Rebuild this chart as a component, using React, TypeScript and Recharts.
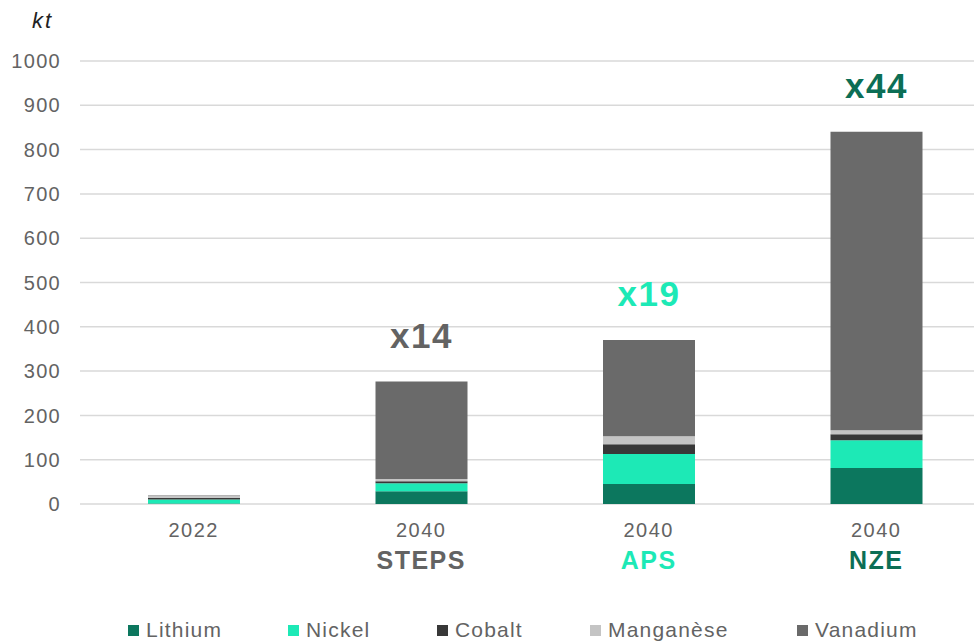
import { BarChart, Bar, XAxis, YAxis, CartesianGrid, LabelList } from "recharts";

const years = ["2022", "2040", "2040", "2040"];
const scenarios = ["", "STEPS", "APS", "NZE"];
const multipliers = ["", "x14", "x19", "x44"];

const lithium = [1, 29, 45, 81];
const nickel = [9, 18, 68, 63];
const cobalt = [4, 4.5, 22, 13.5];
const manganese = [4, 5, 18, 9];
const vanadium = [1, 220, 217, 674];

const yTicks = [0, 100, 200, 300, 400, 500, 600, 700, 800, 900, 1000];

const SCENARIO_COLORS = ["#636363", "#636363", "#1de9b6", "#0c6e55"];

const SERIES = [
  { key: "lithium", name: "Lithium", color: "#0c775e" },
  { key: "nickel", name: "Nickel", color: "#1de9b6" },
  { key: "cobalt", name: "Cobalt", color: "#383838" },
  { key: "manganese", name: "Manganèse", color: "#c4c4c4" },
  { key: "vanadium", name: "Vanadium", color: "#6a6a6a" },
];

const data = years.map((year, i) => ({
  id: i,
  year,
  scenario: scenarios[i],
  lithium: lithium[i],
  nickel: nickel[i],
  cobalt: cobalt[i],
  manganese: manganese[i],
  vanadium: vanadium[i],
}));

const FONT = "'Liberation Sans', Arial, sans-serif";
const TEXT = "#636363";

function CategoryTick(props: any) {
  const { x, payload } = props;
  const i = payload.value;
  return (
    <g>
      <text x={x} y={537} textAnchor="middle" fontSize={20} letterSpacing={1.5} fill={TEXT} fontFamily={FONT}>
        {years[i]}
      </text>
      {scenarios[i] && (
        <text
          x={x}
          y={569}
          textAnchor="middle"
          fontSize={25}
          letterSpacing={1.5}
          fontWeight="bold"
          fill={SCENARIO_COLORS[i]}
          fontFamily={FONT}
        >
          {scenarios[i]}
        </text>
      )}
    </g>
  );
}

function MultiplierLabel(props: any) {
  const { x, y, width, index } = props;
  if (!multipliers[index]) return null;
  return (
    <text
      x={x + width / 2}
      y={y - 34}
      textAnchor="middle"
      fontSize={35}
      letterSpacing={1.5}
      fontWeight="bold"
      fill={SCENARIO_COLORS[index]}
      fontFamily={FONT}
    >
      {multipliers[index]}
    </text>
  );
}

export default function App() {
  return (
    <div style={{ position: "absolute", left: 0, top: 0, width: 974, height: 642, overflow: "hidden", background: "#fff" }}>
      <div
        style={{
          position: "absolute",
          left: 32,
          top: 8,
          fontFamily: FONT,
          fontStyle: "italic",
          fontSize: 22,
          color: "#222",
          letterSpacing: 2,
        }}
      >
        kt
      </div>
      <BarChart
        width={990}
        height={642}
        data={data}
        margin={{ top: 61, right: 0, bottom: 58, left: 0 }}
      >
        <CartesianGrid vertical={false} stroke="#d9d9d9" strokeWidth={1.5} />
        <XAxis
          dataKey="id"
          axisLine={false}
          tickLine={false}
          height={80}
          interval={0}
          tick={<CategoryTick />}
        />
        <YAxis
          width={80}
          domain={[0, 1000]}
          ticks={yTicks}
          axisLine={false}
          tickLine={false}
          tickSize={8}
          tickMargin={11}
          tick={{ fontSize: 20, fill: TEXT, fontFamily: FONT, letterSpacing: 1.3 }}
        />
        {SERIES.map((s, idx) => (
          <Bar
            key={s.key}
            dataKey={s.key}
            name={s.name}
            stackId="a"
            fill={s.color}
            barSize={92}
            isAnimationActive={false}
          >
            {idx === SERIES.length - 1 && <LabelList dataKey="vanadium" content={<MultiplierLabel />} />}
          </Bar>
        ))}
      </BarChart>
      <div style={{ position: "absolute", top: 618, left: 0, width: 974, height: 24 }}>
        {SERIES.map((s, i) => {
          const lefts = [128, 288, 437, 590, 797];
          return (
            <div
              key={s.key}
              style={{
                position: "absolute",
                left: lefts[i],
                top: 0,
                display: "flex",
                alignItems: "center",
                fontFamily: FONT,
                fontSize: 21,
                letterSpacing: 1.2,
                color: TEXT,
                whiteSpace: "nowrap",
              }}
            >
              <span style={{ width: 11, height: 11, background: s.color, display: "inline-block", marginRight: 7 }} />
              {s.name}
            </div>
          );
        })}
      </div>
    </div>
  );
}
